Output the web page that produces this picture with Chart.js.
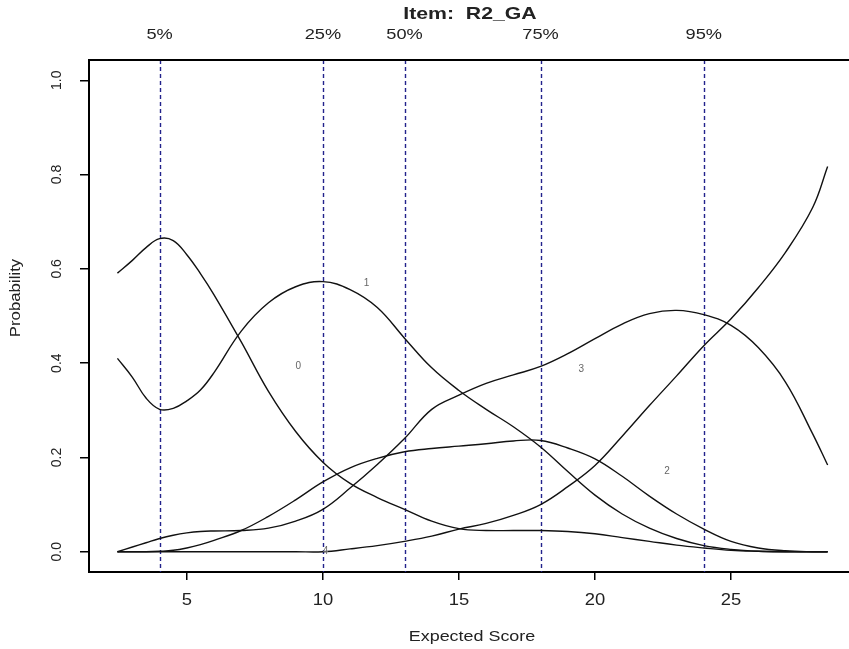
<!DOCTYPE html>
<html>
<head>
<meta charset="utf-8">
<title>Item: R2_GA</title>
<script src="https://cdn.jsdelivr.net/npm/chart.js@4.4.0/dist/chart.umd.min.js"></script>
<style>
    html, body { margin: 0; padding: 0; background: #fff; overflow: hidden; }
</style>
</head>
<body>
<canvas id="chart" width="849" height="649"></canvas>
<script>
    // expected score grid shared by all category curves
    const expectedScore = [2.45, 3, 3.5, 4, 4.5, 5, 5.5, 6, 7, 8, 9, 10, 11, 12, 13, 14, 15,
                           16, 17, 18, 19, 20, 21, 22, 23, 24, 25, 26, 27, 28, 28.55];

    const cat0 = [0.591, 0.618, 0.645, 0.664, 0.66, 0.63, 0.59, 0.545, 0.445, 0.34, 0.255, 0.19, 0.145, 0.115, 0.09, 0.065, 0.049,
                  0.045, 0.045, 0.045, 0.043, 0.038, 0.03, 0.022, 0.014, 0.008, 0.003, 0.001, 0, 0, 0];
    const cat1 = [0.41, 0.37, 0.326, 0.302, 0.304, 0.32, 0.343, 0.38, 0.468, 0.528, 0.562, 0.573, 0.556, 0.518, 0.453, 0.39, 0.342,
                  0.302, 0.265, 0.222, 0.17, 0.12, 0.08, 0.05, 0.028, 0.013, 0.005, 0.001, 0, 0, 0];
    const cat2 = [0, 0, 0, 0.001, 0.003, 0.008, 0.015, 0.024, 0.045, 0.075, 0.11, 0.148, 0.178, 0.198, 0.212, 0.219, 0.224,
                  0.229, 0.235, 0.236, 0.22, 0.197, 0.16, 0.118, 0.08, 0.048, 0.022, 0.008, 0.002, 0, 0];
    const cat3 = [0, 0.01, 0.019, 0.028, 0.035, 0.04, 0.043, 0.044, 0.045, 0.05, 0.065, 0.09, 0.135, 0.185, 0.24, 0.302, 0.332,
                  0.357, 0.375, 0.393, 0.42, 0.452, 0.483, 0.505, 0.512, 0.503, 0.48, 0.433, 0.36, 0.25, 0.184];
    const cat4 = [0, 0, 0, 0, 0, 0, 0, 0, 0, 0, 0, 0, 0.006, 0.013, 0.022, 0.033, 0.048,
                  0.06, 0.077, 0.1, 0.138, 0.183, 0.245, 0.31, 0.373, 0.437, 0.494, 0.56, 0.635, 0.73, 0.817];

    const categories = ['0', '1', '2', '3', '4'];
    const categoryValues = [cat0, cat1, cat2, cat3, cat4];
    // where the category number is printed on the plot
    const labelX = [9.1, 11.6, 22.65, 19.5, 10.1];
    const labelY = [0.393, 0.57, 0.17, 0.387, 0.0];

    const quantiles = [4, 10, 13, 18, 24];
    const quantileLabels = ['5%', '25%', '50%', '75%', '95%'];

    const xTicks = [5, 10, 15, 20, 25];
    const yTicks = [0, 0.2, 0.4, 0.6, 0.8, 1.0];

    const FONT = '"Liberation Sans", Arial, sans-serif';

    // the R device draws its text a bit wider than plain Arial
    function wideText(ctx, str, x, y, sx) {
        ctx.save();
        ctx.translate(x, y);
        ctx.scale(sx, 1);
        ctx.fillText(str, 0, 0);
        ctx.restore();
    }

    const rStyle = {
        id: 'rStyle',
        beforeDatasetsDraw(chart) {
            const {ctx, chartArea, scales} = chart;
            ctx.save();
            ctx.strokeStyle = '#22228c';
            ctx.lineWidth = 1.4;
            ctx.setLineDash([4, 3]);
            quantiles.forEach(q => {
                const px = Math.round(scales.x.getPixelForValue(q)) + 0.5;
                ctx.beginPath();
                ctx.moveTo(px, chartArea.top);
                ctx.lineTo(px, chartArea.bottom);
                ctx.stroke();
            });
            ctx.restore();
        },
        afterDraw(chart) {
            const {ctx, chartArea, scales} = chart;
            const x = scales.x, y = scales.y;
            ctx.save();

            // top frame line
            ctx.strokeStyle = '#000';
            ctx.lineWidth = 2;
            ctx.beginPath();
            ctx.moveTo(chartArea.left, chartArea.top);
            ctx.lineTo(chartArea.right, chartArea.top);
            ctx.stroke();

            ctx.fillStyle = '#222';
            ctx.textAlign = 'center';
            ctx.textBaseline = 'middle';

            // title
            ctx.font = 'bold 17px ' + FONT;
            wideText(ctx, 'Item:  R2_GA', 470, 14.5, 1.25);

            // quantile labels above the frame
            ctx.font = '14px ' + FONT;
            quantiles.forEach((q, i) => wideText(ctx, quantileLabels[i], x.getPixelForValue(q), 35, 1.3));

            // x tick labels
            ctx.font = '16px ' + FONT;
            xTicks.forEach(v => wideText(ctx, String(v), x.getPixelForValue(v), 601, 1.15));

            // x axis title
            ctx.font = '14px ' + FONT;
            wideText(ctx, 'Expected Score', 472, 637, 1.28);

            // y tick labels, rotated like R
            ctx.font = '14px ' + FONT;
            yTicks.forEach(v => {
                ctx.save();
                ctx.translate(57.5, y.getPixelForValue(v));
                ctx.rotate(-Math.PI / 2);
                ctx.fillText(v.toFixed(1), 0, 0);
                ctx.restore();
            });

            // y axis title
            ctx.save();
            ctx.translate(16, 298);
            ctx.rotate(-Math.PI / 2);
            ctx.font = '15px ' + FONT;
            wideText(ctx, 'Probability', 0, 0, 1.12);
            ctx.restore();

            // category labels on the curves
            ctx.fillStyle = '#666';
            ctx.font = '10px ' + FONT;
            categories.forEach((c, i) => {
                ctx.fillText(c, x.getPixelForValue(labelX[i]), y.getPixelForValue(labelY[i]));
            });

            ctx.restore();
        }
    };

    const datasets = categories.map((c, i) => ({
        label: c,
        data: expectedScore.map((s, j) => ({x: s, y: categoryValues[i][j]})),
        borderColor: '#111',
        borderWidth: 1.4,
        pointRadius: 0,
        fill: false,
        tension: 0.4
    }));

    new Chart(document.getElementById('chart'), {
        type: 'line',
        data: {datasets},
        options: {
            responsive: false,
            animation: false,
            layout: {padding: {left: 80, top: 60, right: 0, bottom: 69}},
            plugins: {
                legend: {display: false},
                tooltip: {enabled: false},
                title: {display: false}
            },
            scales: {
                x: {
                    type: 'linear',
                    min: 1.405,
                    max: 29.335,
                    afterBuildTicks: axis => { axis.ticks = xTicks.map(v => ({value: v})); },
                    ticks: {display: false},
                    grid: {drawOnChartArea: false, drawTicks: true, tickLength: 8, color: '#000', lineWidth: 1.5},
                    border: {display: true, color: '#000', width: 2}
                },
                y: {
                    type: 'linear',
                    min: -0.043,
                    max: 1.043,
                    afterBuildTicks: axis => { axis.ticks = yTicks.map(v => ({value: v})); },
                    ticks: {display: false},
                    grid: {drawOnChartArea: false, drawTicks: true, tickLength: 9, color: '#000', lineWidth: 1.5},
                    border: {display: true, color: '#000', width: 2}
                }
            }
        },
        plugins: [rStyle]
    });
</script>
</body>
</html>
